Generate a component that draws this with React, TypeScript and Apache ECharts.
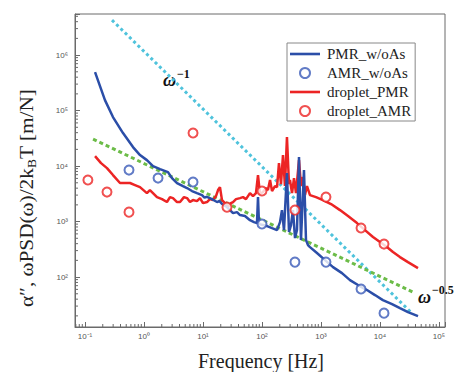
import React, { useEffect, useRef } from "react";
import * as echarts from "echarts";

// Axis extents (log scales)
const X_MIN = 0.0677;
const X_MAX = 126500;
const Y_MIN = 12.6;
const Y_MAX = 5.5e6;

// Tick decades and minor multiples
const X_DECADES = [0.01, 0.1, 1, 10, 100, 1000, 10000, 100000];
const Y_DECADES = [10, 100, 1000, 10000, 100000, 1000000];
const MINOR_MULTIPLES = [2, 3, 4, 5, 6, 7, 8, 9];

// PMR w/oAs (blue line)
const pmrWoAs: [number, number][] = [
  [0.148, 494000], [0.218, 154500], [0.298, 76400], [0.441, 39300], [0.651, 22000],
  [0.855, 15800], [1.12, 12800], [1.42, 10000], [1.87, 8830], [2.55, 7800],
  [2.98, 6080], [3.63, 4950], [4.58, 4370], [5.36, 4020], [6.51, 3550],
  [7.91, 3260], [9.62, 3000], [10.6, 2700], [11.7, 2800], [14.2, 2540],
  [17.3, 2250], [19.0, 2350], [21.0, 2070], [25.5, 1830], [32.3, 1420],
  [37.7, 1480], [42.4, 1310], [51.5, 1260], [62.6, 1060], [73.2, 980],
  [82.3, 940], [85.6, 2760], [89.0, 900], [104, 865], [122, 830],
  [148, 764], [180, 703], [202, 979], [218, 1610], [236, 703],
  [265, 7480], [287, 647], [310, 865], [335, 1610], [363, 505],
  [392, 703], [424, 14500], [458, 464], [515, 8470], [557, 464],
  [602, 377], [651, 347], [855, 271], [1170, 202], [1600, 151],
  [2270, 118], [3100, 88.3], [4240, 71.8], [6020, 58.4], [8230, 47.4],
  [11200, 38.5], [16000, 32.6], [21800, 27.6], [29800, 23.4], [44100, 19.8],
];

// AMR w/oAs (blue circles)
const amrWoAs: [number, number][] = [
  [0.557, 8470], [1.73, 6080], [6.78, 5150], [100, 902],
  [362, 186], [1215, 186], [4770, 60.8], [11700, 22.4],
];

// droplet PMR (red line)
const dropletPmr: [number, number][] = [
  [0.148, 15100], [0.187, 11300], [0.236, 9200], [0.298, 6890], [0.392, 4950],
  [0.476, 4950], [0.579, 4950], [0.704, 4550], [0.855, 4180], [1.12, 3260],
  [1.26, 3700], [1.42, 3260], [1.66, 2760], [2.02, 2540], [2.45, 2250],
  [2.76, 2760], [3.10, 2650], [3.63, 2250], [4.08, 2250], [4.76, 2760],
  [5.36, 2650], [6.02, 2250], [6.77, 2440], [7.91, 2340], [8.90, 2650],
  [10.0, 2150], [11.7, 2250], [13.1, 2540], [14.8, 2440], [16.6, 2880],
  [18.0, 3700], [19.4, 4180], [21.0, 2440], [23.6, 2150], [26.5, 1830],
  [29.8, 2150], [32.3, 2250], [36.3, 2540], [42.4, 2650], [47.6, 2760],
  [53.6, 2540], [62.6, 3260], [70.4, 2880], [79.1, 3260], [85.6, 6890],
  [92.5, 3130], [104, 3400], [117, 4010], [126, 3700], [137, 5600],
  [148, 3540], [166, 4370], [180, 4180], [194, 11300], [210, 4740],
  [227, 15800], [245, 4370], [265, 33300], [287, 4740], [298, 5600],
  [323, 3260], [349, 6080], [377, 3260], [424, 12800], [458, 4370],
  [495, 6340], [536, 3000], [579, 4370], [651, 3000], [823, 2760],
  [1080, 2440], [1480, 2070], [2100, 1610], [2870, 1260], [4080, 940],
  [5570, 703], [7610, 526], [10000, 427], [13100, 347], [16600, 282],
  [21800, 229], [29800, 186], [44100, 145],
];

// droplet AMR (red circles)
const dropletAmr: [number, number][] = [
  [0.112, 5600], [0.236, 3400], [0.557, 1480], [6.78, 39400], [25.5, 1820],
  [100, 3550], [362, 1610], [1215, 2760], [4770, 764], [11700, 393],
];

// Guide lines
const omegaMinus1: [number, number][] = [[0.287, 4.27e6], [34700, 22.4]];
const omegaMinusHalf: [number, number][] = [[0.137, 30600], [39000, 51.5]];

const LINE_ICON = "path://M0 0H30V2.6H0Z";
const LEGEND_ITEMS = [
  { name: "PMR_w/oAs", icon: LINE_ICON },
  { name: "AMR_w/oAs" },
  { name: "droplet_PMR", icon: LINE_ICON },
  { name: "droplet_AMR" },
];

const BLUE = "#2b4ea8";
const BLUE_C = "#3a5ab8";
const RED = "#ec2424";
const CYAN = "#4fc3dc";
const GREEN = "#6cbc48";
const FRAME = "#6a6a6a";

const SUP: Record<string, string> = {
  "-": "⁻", "0": "⁰", "1": "¹", "2": "²", "3": "³", "4": "⁴",
  "5": "⁵", "6": "⁶", "7": "⁷", "8": "⁸", "9": "⁹",
};

function decadeLabel(v: number): string {
  const e = Math.log10(v);
  const r = Math.round(e);
  if (Math.abs(e - r) > 1e-6) return "";
  return "10" + String(r).split("").map((c) => SUP[c] || c).join("");
}

export default function App() {
  const ref = useRef<HTMLDivElement>(null);
  useEffect(() => {
    if (!ref.current) return;
    const chart = echarts.init(ref.current, null, { renderer: "svg" });

    const xMinor: [number, number][] = [];
    X_DECADES.forEach((d) =>
      MINOR_MULTIPLES.forEach((m) => {
        const v = d * m;
        if (v > X_MIN && v < X_MAX) xMinor.push([v, Y_MIN]);
      })
    );
    const yMinor: [number, number][] = [];
    Y_DECADES.forEach((d) =>
      MINOR_MULTIPLES.forEach((m) => {
        const v = d * m;
        if (v > Y_MIN && v < Y_MAX) yMinor.push([X_MIN, v]);
      })
    );

    const serif = "'Liberation Serif', 'Times New Roman', serif";

    chart.setOption({
      animation: false,
      backgroundColor: "#ffffff",
      grid: {
        left: 75, right: 13, top: 14, bottom: 45,
        show: true, borderColor: FRAME, borderWidth: 1, backgroundColor: "transparent",
      },
      xAxis: {
        type: "log",
        min: X_MIN,
        max: X_MAX,
        logBase: 10,
        splitLine: { show: false },
        axisLine: { show: true, lineStyle: { color: FRAME, width: 1 } },
        axisTick: { show: true, inside: true, length: 5, lineStyle: { color: FRAME } },
        axisLabel: {
          formatter: decadeLabel, fontSize: 8, color: "#555",
          fontFamily: "Liberation Sans", margin: 5, hideOverlap: false,
        },
      },
      yAxis: {
        type: "log",
        min: Y_MIN,
        max: Y_MAX,
        logBase: 10,
        splitLine: { show: false },
        axisLine: { show: true, lineStyle: { color: FRAME, width: 1 } },
        axisTick: { show: true, inside: true, length: 5, lineStyle: { color: FRAME } },
        axisLabel: {
          formatter: decadeLabel, fontSize: 8, color: "#555",
          fontFamily: "Liberation Sans", margin: 7, hideOverlap: false,
        },
      },
      legend: {
        data: LEGEND_ITEMS,
        orient: "vertical",
        left: 287,
        top: 43,
        itemWidth: 30,
        itemHeight: 10,
        itemGap: 3,
        padding: [3, 4, 2, 3],
        backgroundColor: "#ffffff",
        borderColor: "#888",
        borderWidth: 1,
        borderRadius: 0,
        textStyle: {
          fontFamily: serif, fontSize: 15, lineHeight: 16, color: "#222", padding: [0, 0, 0, 2],
        },
      },
      series: [
        {
          type: "custom",
          name: "xminor",
          silent: true,
          data: xMinor,
          renderItem: (_p: any, api: any) => {
            const pt = api.coord([api.value(0), api.value(1)]);
            return {
              type: "line",
              shape: { x1: pt[0], y1: pt[1], x2: pt[0], y2: pt[1] - 3 },
              style: { stroke: FRAME, lineWidth: 1 },
            };
          },
        },
        {
          type: "custom",
          name: "yminor",
          silent: true,
          data: yMinor,
          renderItem: (_p: any, api: any) => {
            const pt = api.coord([api.value(0), api.value(1)]);
            return {
              type: "line",
              shape: { x1: pt[0], y1: pt[1], x2: pt[0] + 3, y2: pt[1] },
              style: { stroke: FRAME, lineWidth: 1 },
            };
          },
        },
        {
          type: "line",
          name: "omega-1",
          data: omegaMinus1,
          symbol: "none",
          silent: true,
          lineStyle: { color: CYAN, width: 3, type: [3, 3] },
          z: 2,
        },
        {
          type: "line",
          name: "omega-0.5",
          data: omegaMinusHalf,
          symbol: "none",
          silent: true,
          lineStyle: { color: GREEN, width: 3, type: [4, 3] },
          z: 2,
        },
        {
          type: "line",
          name: "droplet_PMR",
          data: dropletPmr,
          symbol: "none",
          itemStyle: { color: RED },
          lineStyle: { color: RED, width: 2.5 },
          z: 3,
        },
        {
          type: "line",
          name: "PMR_w/oAs",
          data: pmrWoAs,
          symbol: "none",
          itemStyle: { color: BLUE },
          lineStyle: { color: BLUE, width: 2.5 },
          z: 4,
        },
        {
          type: "scatter",
          name: "droplet_AMR",
          data: dropletAmr,
          symbol: "emptyCircle",
          symbolSize: 9,
          itemStyle: { color: RED, borderColor: RED, borderWidth: 2 },
          z: 5,
        },
        {
          type: "scatter",
          name: "AMR_w/oAs",
          data: amrWoAs,
          symbol: "emptyCircle",
          symbolSize: 9,
          itemStyle: { color: BLUE_C, borderColor: BLUE_C, borderWidth: 2 },
          z: 5,
        },
      ],
      graphic: [
        {
          type: "text",
          x: 26,
          y: 198,
          rotation: Math.PI / 2,
          scaleX: 1.12,
          style: {
            text: "{a|α″, ωPSD(ω)/2k}{b|B}{a|T [m/N]}",
            align: "center",
            verticalAlign: "middle",
            fill: "#222",
            rich: {
              a: { fontFamily: serif, fontSize: 19, lineHeight: 24, fill: "#222" },
              b: { fontFamily: serif, fontSize: 12, lineHeight: 12, verticalAlign: "bottom", fill: "#222" },
            },
          },
        },
        {
          type: "text",
          x: 261,
          y: 361,
          style: {
            text: "{a|Frequency [Hz]}",
            align: "center",
            verticalAlign: "middle",
            fill: "#222",
            rich: {
              a: { fontFamily: serif, fontSize: 20, lineHeight: 24, fill: "#222" },
            },
          },
        },
        {
          type: "text",
          x: 163,
          y: 80,
          style: {
            text: "ω",
            fontFamily: serif, fontStyle: "italic", fontWeight: "bold",
            fontSize: 18, fill: "#111", align: "left", verticalAlign: "middle",
          },
        },
        {
          type: "text",
          x: 177,
          y: 74,
          style: {
            text: "−1",
            fontFamily: serif, fontWeight: "bold",
            fontSize: 12, fill: "#111", align: "left", verticalAlign: "middle",
          },
        },
        {
          type: "text",
          x: 418,
          y: 297,
          style: {
            text: "ω",
            fontFamily: serif, fontStyle: "italic", fontWeight: "bold",
            fontSize: 18, fill: "#111", align: "left", verticalAlign: "middle",
          },
        },
        {
          type: "text",
          x: 432,
          y: 290,
          style: {
            text: "−0.5",
            fontFamily: serif, fontWeight: "bold",
            fontSize: 12, fill: "#111", align: "left", verticalAlign: "middle",
          },
        },
      ],
    });

    return () => chart.dispose();
  }, []);

  return (
    <div
      ref={ref}
      style={{ position: "fixed", left: 0, top: 0, width: 458, height: 372, background: "#fff" }}
    />
  );
}
